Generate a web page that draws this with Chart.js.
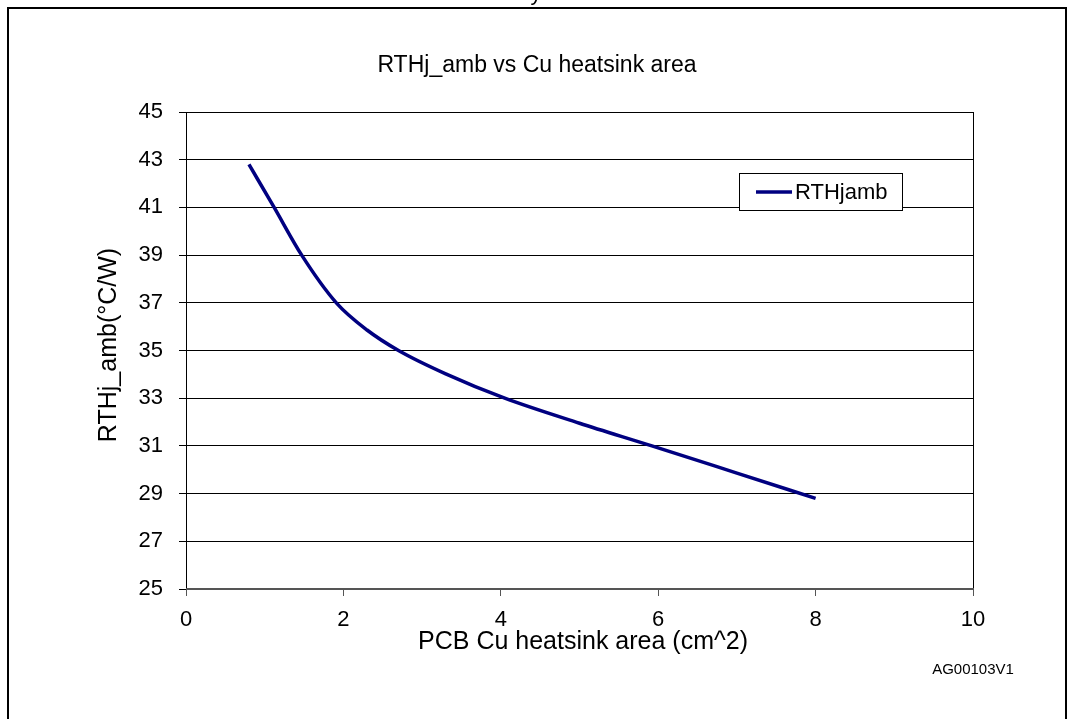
<!DOCTYPE html>
<html>
<head>
<meta charset="utf-8">
<script src="https://cdn.jsdelivr.net/npm/chart.js@4/dist/chart.umd.min.js"></script>
<style>
  html, body { margin: 0; padding: 0; background: #fff; overflow: hidden; }
  #wrap { position: relative; width: 1074px; height: 719px; }
</style>
</head>
<body>
<div id="wrap"><canvas id="c"></canvas></div>
<script>
// ---- data ----
const areaValues = [0.8, 1.12, 1.47, 1.91, 2.3, 2.7, 3.3, 4.05, 5.0, 5.92, 7.0, 8.0];
const rthValues  = [42.8, 41.0, 39.0, 37.0, 35.86, 35.0, 34.02, 33.0, 31.95, 31.0, 29.86, 28.8];
const seriesLabel = 'RTHjamb';
const chartTitle = 'RTHj_amb vs Cu heatsink area';
const xTitle = 'PCB Cu heatsink area (cm^2)';
const yTitle = 'RTHj_amb(°C/W)';
const codeLabel = 'AG00103V1';
const xTicks = [0, 2, 4, 6, 8, 10];
const yTicks = [25, 27, 29, 31, 33, 35, 37, 39, 41, 43, 45];

const FONT = '"Liberation Sans", Arial, sans-serif';
const LINE_COLOR = '#000080';

const points = areaValues.map((x, i) => ({ x: x, y: rthValues[i] }));

const decor = {
  id: 'decor',
  beforeDraw(chart) {
    const ctx = chart.ctx;
    ctx.save();
    ctx.fillStyle = '#fff';
    ctx.fillRect(0, 0, chart.width, chart.height);
    ctx.restore();
  },
  afterDatasetsDraw(chart) {
    const ctx = chart.ctx;
    const a = chart.chartArea;
    ctx.save();
    // plot area border (right side)
    ctx.strokeStyle = '#000';
    ctx.lineWidth = 1;
    ctx.beginPath();
    ctx.moveTo(Math.round(a.right) + 0.5, a.top);
    ctx.lineTo(Math.round(a.right) + 0.5, a.bottom);
    ctx.stroke();
    // bottom axis line
    ctx.strokeStyle = '#555';
    ctx.lineWidth = 2;
    ctx.beginPath();
    ctx.moveTo(a.left, Math.round(a.bottom));
    ctx.lineTo(a.right + 1, Math.round(a.bottom));
    ctx.stroke();

    // legend box
    const lx = 739, ly = 173, lw = 163, lh = 37;
    ctx.fillStyle = '#fff';
    ctx.fillRect(lx, ly, lw, lh);
    ctx.strokeStyle = '#000';
    ctx.lineWidth = 1;
    ctx.strokeRect(lx + 0.5, ly + 0.5, lw, lh);
    const ds = chart.data.datasets[0];
    ctx.strokeStyle = ds.borderColor;
    ctx.lineWidth = 3.5;
    ctx.beginPath();
    ctx.moveTo(756, ly + lh / 2 + 0.5);
    ctx.lineTo(792, ly + lh / 2 + 0.5);
    ctx.stroke();
    ctx.fillStyle = '#000';
    ctx.font = '22px ' + FONT;
    ctx.textAlign = 'left';
    ctx.textBaseline = 'middle';
    ctx.fillText(ds.label, 795, ly + lh / 2 + 1);

    // title
    ctx.font = '23px ' + FONT;
    ctx.textAlign = 'center';
    ctx.fillText(chartTitle, 537, 66);

    // x title
    ctx.font = '25px ' + FONT;
    ctx.fillText(xTitle, 583, 642);

    // y title
    ctx.save();
    ctx.translate(109, 345);
    ctx.rotate(-Math.PI / 2);
    ctx.fillText(yTitle, 0, 0);
    ctx.restore();

    // code label
    ctx.font = '15px ' + FONT;
    ctx.textAlign = 'center';
    ctx.fillText(codeLabel, 973, 670);

    // outer frame
    ctx.strokeStyle = '#000';
    ctx.lineWidth = 2;
    ctx.strokeRect(8, 8, 1058, 760);

    // cut-off glyph above frame
    ctx.font = '22px ' + FONT;
    ctx.textBaseline = 'alphabetic';
    ctx.fillText('y', 536, 0);
    ctx.restore();
  }
};

new Chart(document.getElementById('c'), {
  type: 'scatter',
  data: {
    datasets: [{
      label: seriesLabel,
      data: points,
      showLine: true,
      borderColor: LINE_COLOR,
      backgroundColor: LINE_COLOR,
      borderWidth: 3.5,
      pointRadius: 0,
      pointHoverRadius: 0,
      cubicInterpolationMode: 'monotone',
      fill: false
    }]
  },
  options: {
    responsive: true,
    maintainAspectRatio: false,
    animation: false,
    events: [],
    layout: { padding: { top: 112, left: 0, right: 101, bottom: 70 } },
    plugins: {
      legend: { display: false },
      title: { display: false },
      tooltip: { enabled: false }
    },
    scales: {
      x: {
        type: 'linear',
        min: 0, max: 10,
        afterBuildTicks: (s) => { s.ticks = xTicks.map(v => ({ value: v })); },
        afterFit: (s) => { s.height = 60; },
        ticks: { color: '#000', font: { family: FONT, size: 22 }, padding: 11, maxRotation: 0 },
        grid: { drawOnChartArea: false, drawTicks: true, tickLength: 7, color: '#555', tickColor: '#555' },
        border: { display: false }
      },
      y: {
        type: 'linear',
        min: 25, max: 45,
        afterBuildTicks: (s) => { s.ticks = yTicks.map(v => ({ value: v })); },
        afterFit: (s) => { s.width = 186; },
        ticks: { color: '#000', font: { family: FONT, size: 22 }, padding: 16 },
        grid: { drawOnChartArea: true, drawTicks: true, tickLength: 7, color: '#000', tickColor: '#000', lineWidth: 1 },
        border: { display: true, color: '#000', width: 1 }
      }
    }
  },
  plugins: [decor]
});
</script>
</body>
</html>
